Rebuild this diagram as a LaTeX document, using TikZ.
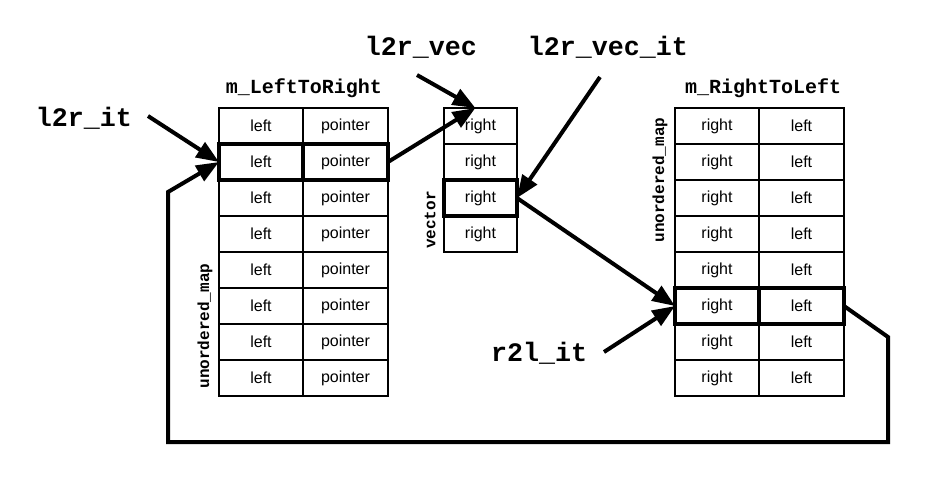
\documentclass[tikz,border=0pt]{standalone}
\usepackage{fontspec}
\setmainfont{Liberation Sans}
\newfontfamily\codefont{Liberation Mono}
\usetikzlibrary{positioning, arrows.meta, calc}

\begin{document}
\begin{tikzpicture}[
  x=0.75pt, y=-0.75pt,
  cell/.style={
    draw, line width=0.8pt, minimum height=27pt, inner sep=0pt,
    outer sep=0pt, font=\fontsize{12}{14}\selectfont
  },
  keycell/.style={cell, minimum width=63pt},
  valcell/.style={cell, minimum width=63.75pt},
  veccell/.style={cell, minimum width=54.75pt},
  picked/.style={line width=3pt},
  varname/.style={font=\codefont\bfseries\fontsize{20}{24}\selectfont},
  tabletitle/.style={font=\codefont\bfseries\fontsize{15}{18}\selectfont},
  kind/.style={font=\codefont\bfseries\fontsize{12}{14}\selectfont, rotate=90},
  arrow/.style={-{Triangle[length=17pt, width=13pt]}, line width=3pt},
]
\useasboundingbox (0,0) rectangle (948,492);

% m_LeftToRight
\foreach \i in {1,...,8} {
  \node[keycell] (l\i-a) at (261, 90+36*\i) {left};
  \node[valcell, right=0pt of l\i-a] (l\i-b) {pointer};
}
% vector
\foreach \i in {1,...,4}
  \node[veccell] (v\i) at (480.5, 90+36*\i) {right};
% m_RightToLeft
\foreach \i in {1,...,8} {
  \node[keycell] (r\i-a) at (717, 90+36*\i) {right};
  \node[valcell, right=0pt of r\i-a] (r\i-b) {left};
}
\foreach \c in {l2-a, l2-b, v3, r6-a, r6-b}
  \draw[picked] (\c.north west) rectangle (\c.south east);

\node[tabletitle] (ltitle) at (304,88) {m\_LeftToRight};
\node[tabletitle] (rtitle) at (763,88) {m\_RightToLeft};
\node[kind] (lkind) at (205,326) {unordered\_map};
\node[kind] (rkind) at (660,180) {unordered\_map};
\node[kind] (vkind) at (430,220) {vector};

\node[varname] (l2rit) at (84,118) {l2r\_it};
\node[varname] (l2rvec) at (421,47) {l2r\_vec};
\node[varname] (l2rvecit) at (608,47) {l2r\_vec\_it};
\node[varname] (r2lit) at (539,353) {r2l\_it};

\coordinate (l2rit-t) at (148,116);
\coordinate (l2rvec-t) at (417,75);
\coordinate (l2rvecit-t) at (600,77);
\coordinate (r2lit-t) at (604,352);
\coordinate (vtop) at ($(v1.north west)!0.43!(v1.north east)$);

\draw[arrow] (l2rit-t) -- (l2-a.west);
\draw[arrow] (l2rvec-t) -- (vtop);
\draw[arrow] (l2-b.east) -- (vtop);
\draw[arrow] (l2rvecit-t) -- (v3.east);
\draw[arrow] (v3.east) -- (r6-a.west);
\draw[arrow] (r2lit-t) -- (r6-a.west);
\draw[arrow] (r6-b.east) -- ++(44,31) |- (168,442) -- (168,192) -- (l2-a.west);

\end{tikzpicture}
\end{document}
